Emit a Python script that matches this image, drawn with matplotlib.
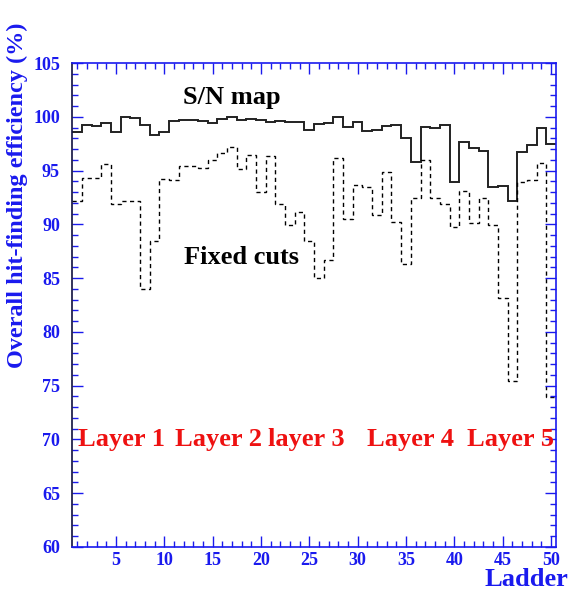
import numpy as np
import matplotlib
matplotlib.use('Agg')
import matplotlib.pyplot as plt
from matplotlib.ticker import MultipleLocator

# ladder number 1..50
ladders = np.arange(1, 51)

# hit-finding efficiency (%) with S/N map
sn_map = [98.6, 99.25, 99.15, 99.4, 98.6, 100.0, 99.9, 99.25, 98.35, 98.6,
          99.6, 99.7, 99.7, 99.65, 99.45, 99.8, 99.95, 99.7, 99.8, 99.7,
          99.55, 99.65, 99.55, 99.5, 98.8, 99.3, 99.4, 99.95, 99.1, 99.55,
          98.7, 98.8, 99.15, 99.25, 98.0, 95.85, 99.1, 99.0, 99.2, 93.9,
          97.65, 97.1, 96.8, 93.45, 93.6, 92.2, 96.7, 97.35, 99.0, 97.45]

# hit-finding efficiency (%) with fixed cuts
fixed_cuts = [92.2, 94.35, 94.35, 95.6, 91.9, 92.2, 92.2, 83.95, 88.5, 94.2,
              94.15, 95.45, 95.45, 95.2, 96.0, 96.6, 97.2, 95.15, 96.45, 93.0,
              96.4, 91.9, 89.9, 91.15, 88.5, 85.05, 86.7, 96.15, 90.5, 93.65,
              93.5, 90.9, 94.9, 90.2, 86.35, 92.5, 96.0, 92.5, 91.9, 89.8,
              93.1, 90.15, 92.5, 89.95, 83.2, 75.45, 93.95, 94.15, 95.7, 73.9]

layer_labels = ['Layer 1', 'Layer 2', 'layer 3', 'Layer 4', 'Layer 5']
layer_x = [1.07, 11.1, 20.7, 31.0, 41.3]

blue = '#1a1aee'
plt.rcParams['font.family'] = ['Liberation Serif', 'DejaVu Serif']
plt.rcParams['font.weight'] = 'bold'

fig = plt.figure(figsize=(5.68, 5.90), dpi=100)
ax = fig.add_axes([0.1276, 0.073, 0.851, 0.820])

edges = np.append(ladders - 0.5, ladders[-1] + 0.5)
ax.stairs(sn_map, edges, color='#222222', lw=1.4, baseline=None)
ax.stairs(fixed_cuts, edges, color='black', lw=1.0, ls=(0, (3, 2.5)), baseline=None)

ax.set_xlim(0.5, 50.5)
ax.set_ylim(60, 105)
ax.xaxis.set_major_locator(MultipleLocator(5))
ax.xaxis.set_minor_locator(MultipleLocator(1))
ax.yaxis.set_major_locator(MultipleLocator(5))
ax.yaxis.set_minor_locator(MultipleLocator(1))
ax.tick_params(which='both', direction='in', top=True, right=True, color=blue,
               labelcolor=blue, labelsize=13, width=1)
ax.tick_params(which='major', length=8)
ax.tick_params(which='minor', length=4)
ax.tick_params(axis='x', which='major', pad=4)
ax.tick_params(axis='y', which='major', pad=9)
for lab in ax.get_xticklabels() + ax.get_yticklabels():
    lab.set_fontweight('bold')
for s in ['bottom', 'top', 'right']:
    ax.spines[s].set_color(blue)
ax.spines['left'].set_color('#101040')
for s in ax.spines.values():
    s.set_linewidth(1.2)

ax.set_ylabel('Overall hit-finding efficiency (%)', color=blue, fontsize=17.5,
              fontweight='bold')
ax.yaxis.set_label_coords(-0.092, 0.727)
ax.set_xlabel('Ladder', color=blue, fontsize=19, fontweight='bold')
ax.xaxis.set_label_coords(1.025, -0.068)
ax.xaxis.label.set_horizontalalignment('right')
ax.xaxis.label.set_verticalalignment('center')

ax.text(17.0, 101.8, 'S/N map', fontsize=19, fontweight='bold', ha='center', va='center')
ax.text(18.0, 86.9, 'Fixed cuts', fontsize=19, fontweight='bold', ha='center', va='center')
for lx, lt in zip(layer_x, layer_labels):
    ax.text(lx, 70, lt, color='#ee1111', fontsize=19, fontweight='bold', ha='left', va='center')

fig.savefig('out.png', dpi=100)
